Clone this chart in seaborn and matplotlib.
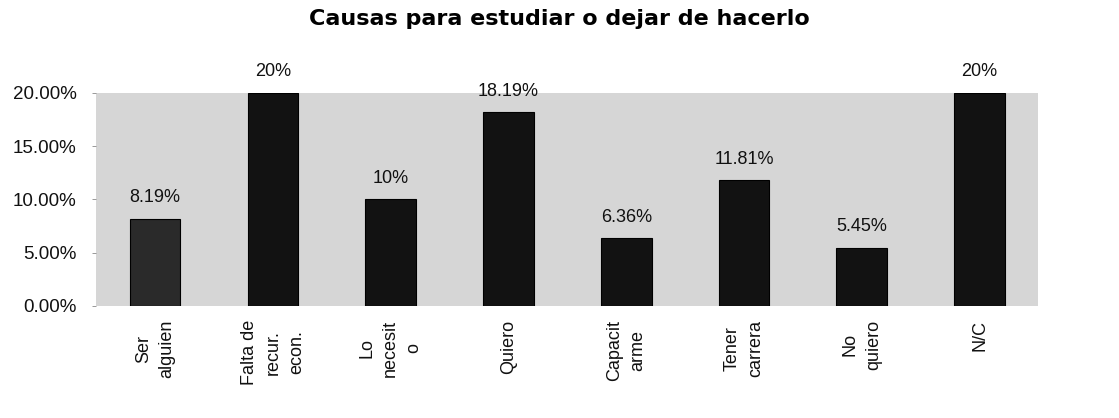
import matplotlib
matplotlib.use("Agg")
import matplotlib.pyplot as plt
import seaborn as sns
import pandas as pd
from matplotlib.ticker import FuncFormatter

categories = ["Ser\nalguien", "Falta de\nrecur.\necon.", "Lo\nnecesit\no", "Quiero",
              "Capacit\narme", "Tener\ncarrera", "No\nquiero", "N/C"]
values = [8.19, 20.0, 10.0, 18.19, 6.36, 11.81, 5.45, 20.0]
value_labels = ["8.19%", "20%", "10%", "18.19%", "6.36%", "11.81%", "5.45%", "20%"]
y_ticks = [0, 5, 10, 15, 20]

sns.set_theme(style="white")
plt.rcParams['font.family'] = ['Liberation Sans', 'DejaVu Sans']

df = pd.DataFrame({"cat": categories, "val": values})

fig = plt.figure(figsize=(11.19, 4.18), dpi=100)
ax = fig.add_axes([0.086, 0.268, 0.842, 0.51])
ax.set_facecolor("#d6d6d6")

sns.barplot(data=df, x="cat", y="val", ax=ax, color="#121212", width=0.43,
            saturation=1, edgecolor="#000000", linewidth=0.8)
ax.patches[0].set_facecolor("#2a2a2a")

ax.set_ylim(0, 20)
ax.set_yticks(y_ticks)
ax.yaxis.set_major_formatter(FuncFormatter(lambda v, p: f"{v:.2f}%"))
for s in ax.spines.values():
    s.set_visible(False)
ax.tick_params(axis="y", which="major", left=True, length=3, width=0.6,
               color="#888888", labelsize=13.5, pad=11, labelcolor="#111111")
ax.tick_params(axis="x", bottom=False, labelsize=13, pad=4, labelcolor="#111111")
ax.set_xlabel("")
ax.set_ylabel("")
for lbl in ax.get_xticklabels():
    lbl.set_rotation(90)
    lbl.set_multialignment("center")
    lbl.set_linespacing(1.5)
    lbl.set_va("top")
    lbl.set_ha("center")

for i, (v, t) in enumerate(zip(values, value_labels)):
    ax.annotate(t, xy=(i, v), xytext=(0, 9), textcoords="offset points",
                ha="center", va="bottom", fontsize=13, color="#111111",
                annotation_clip=False)

fig.text(0.5, 0.978, "Causas para estudiar o dejar de hacerlo", ha="center",
         va="top", fontsize=16, fontweight="heavy",
         family=["DejaVu Sans"], color="#000000")

fig.savefig("out.png", dpi=100, facecolor="white")
